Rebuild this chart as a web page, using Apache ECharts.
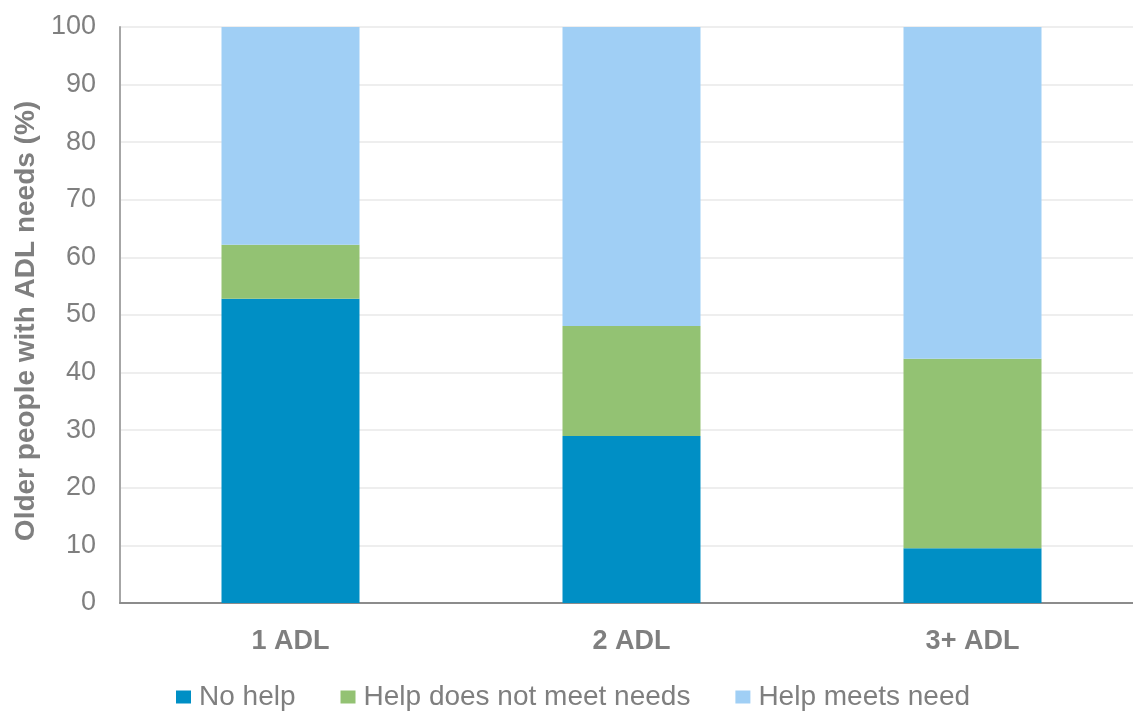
<!DOCTYPE html>
<html><head><meta charset="utf-8">
<script src="https://cdn.jsdelivr.net/npm/echarts@6/dist/echarts.min.js"></script>
<style>html,body{margin:0;padding:0;background:#fff}#c{width:1133px;height:711px}</style>
</head><body><div id="c"></div>
<script>
const categories = ['1 ADL', '2 ADL', '3+ ADL'];
const noHelp = [52.8, 29.0, 9.5];
const helpNotMeet = [9.4, 19.1, 32.9];
const helpMeets = [37.8, 51.9, 57.6];
const yTicks = [0, 10, 20, 30, 40, 50, 60, 70, 80, 90, 100];
const seriesNames = ['No help', 'Help does not meet needs', 'Help meets need'];
const colors = ['#008FC5', '#93C273', '#A0CFF5'];

const chart = echarts.init(document.getElementById('c'));
const txt = '#7F7F7F';
chart.setOption({
  animation: false,
  color: colors,
  grid: { left: 120, width: 1023, top: 27, height: 576, outerBoundsMode: 'none', containLabel: false },
  legend: {
    top: 678, left: 171, itemWidth: 15, itemHeight: 13, itemGap: 45,
    icon: 'rect',
    textStyle: { color: txt, fontSize: 28, fontFamily: 'Liberation Sans', padding: [0, 0, 0, 3] },
    data: seriesNames
  },
  xAxis: {
    type: 'category', data: categories,
    axisLine: { lineStyle: { color: '#8C8C8C', width: 2 } },
    axisTick: { show: false },
    axisLabel: { color: txt, fontSize: 27, fontWeight: 'bold', fontFamily: 'Liberation Sans', margin: 25 }
  },
  yAxis: {
    type: 'value', min: yTicks[0], max: yTicks[yTicks.length - 1], interval: 10,
    name: 'Older people with ADL needs (%)', nameLocation: 'middle', nameGap: 76,
    nameTextStyle: { color: txt, fontSize: 28, fontWeight: 'bold', fontFamily: 'Liberation Sans', padding: [0, 12, 0, 0] },
    axisLine: { show: true, lineStyle: { color: '#A6A6A6', width: 2 } },
    axisTick: { show: false },
    splitLine: { lineStyle: { color: '#EEEEEE', width: 2 } },
    axisLabel: { color: txt, fontSize: 27, fontFamily: 'Liberation Sans', margin: 24 }
  },
  series: [
    { name: seriesNames[0], type: 'bar', stack: 's', data: noHelp, barWidth: 138 },
    { name: seriesNames[1], type: 'bar', stack: 's', data: helpNotMeet, barWidth: 138 },
    { name: seriesNames[2], type: 'bar', stack: 's', data: helpMeets, barWidth: 138 }
  ]
});
</script></body></html>
